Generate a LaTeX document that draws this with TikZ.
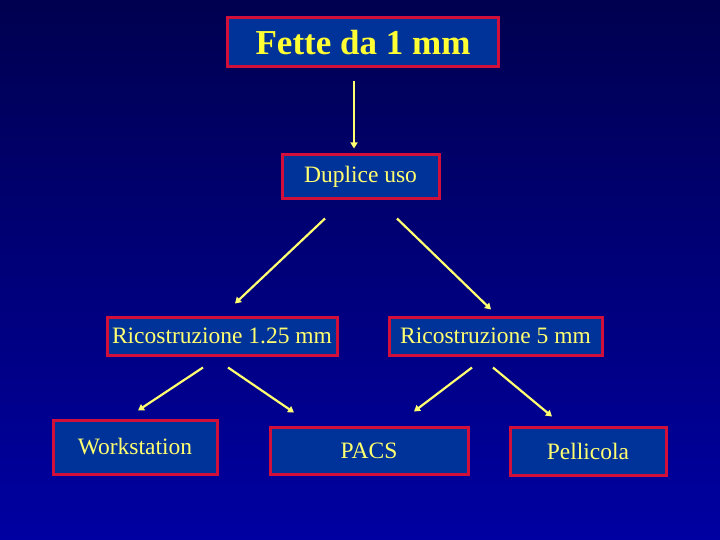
\documentclass[tikz,border=0pt]{standalone}
\usepackage{fontspec}
\setmainfont{Liberation Serif}
\usetikzlibrary{arrows.meta}
\definecolor{bgtop}{HTML}{000050}
\definecolor{bgbot}{HTML}{0000A2}
\definecolor{boxfill}{HTML}{003399}
\definecolor{boxred}{HTML}{D0103A}
\definecolor{txtyel}{HTML}{FFFF70}
\definecolor{ttlyel}{HTML}{FFFF33}
\definecolor{arryel}{HTML}{FFFF70}
\tikzset{
  box/.style={draw=boxred, line width=3pt, fill=boxfill, inner sep=0pt, text=txtyel, font=\fontsize{23.5}{26}\selectfont},
  arr/.style={draw=arryel, line width=2.2pt, -{Triangle[length=6pt,width=7pt]}}
}
\begin{document}
\begin{tikzpicture}[x=1pt,y=-1pt]
\useasboundingbox (0,0) rectangle (720,540);
\shade[top color=bgtop, bottom color=bgbot] (0,0) rectangle (720,540);
\node[box, minimum width=271, minimum height=49, text=ttlyel, font=\fontsize{35}{38}\selectfont\bfseries] (title) at (363,42.5) {Fette da 1 mm};
\node[box, minimum width=157, minimum height=44] (dup) at (360.5,177) {Duplice uso};
\node[box, minimum width=230, minimum height=38] (r1) at (222,336) {Ricostruzione 1.25 mm};
\node[box, minimum width=213, minimum height=38] (r5) at (495.5,336) {Ricostruzione 5 mm};
\node[box, minimum width=164, minimum height=54] (work) at (135,447) {Workstation};
\node[box, minimum width=198, minimum height=47] (pacs) at (369,450.5) {PACS};
\node[box, minimum width=156, minimum height=48] (pell) at (588,451) {Pellicola};
\draw[arr] ([shift={(-9,13)}]title.south) -- ([shift={(-6.5,-5)}]dup.north);
\draw[arr] ([shift={(-35.5,18)}]dup.south) -- ([shift={(13,-12)}]r1.north);
\draw[arr] ([shift={(36.5,18)}]dup.south) -- ([shift={(-4.5,-6)}]r5.north);
\draw[arr] ([shift={(-19,11)}]r1.south) -- ([shift={(3,-8)}]work.north);
\draw[arr] ([shift={(6,11)}]r1.south) -- ([shift={(-75,-13)}]pacs.north);
\draw[arr] ([shift={(-23.5,11)}]r5.south) -- ([shift={(45,-14)}]pacs.north);
\draw[arr] ([shift={(-2.5,11)}]r5.south) -- ([shift={(-36,-9)}]pell.north);
\end{tikzpicture}
\end{document}
